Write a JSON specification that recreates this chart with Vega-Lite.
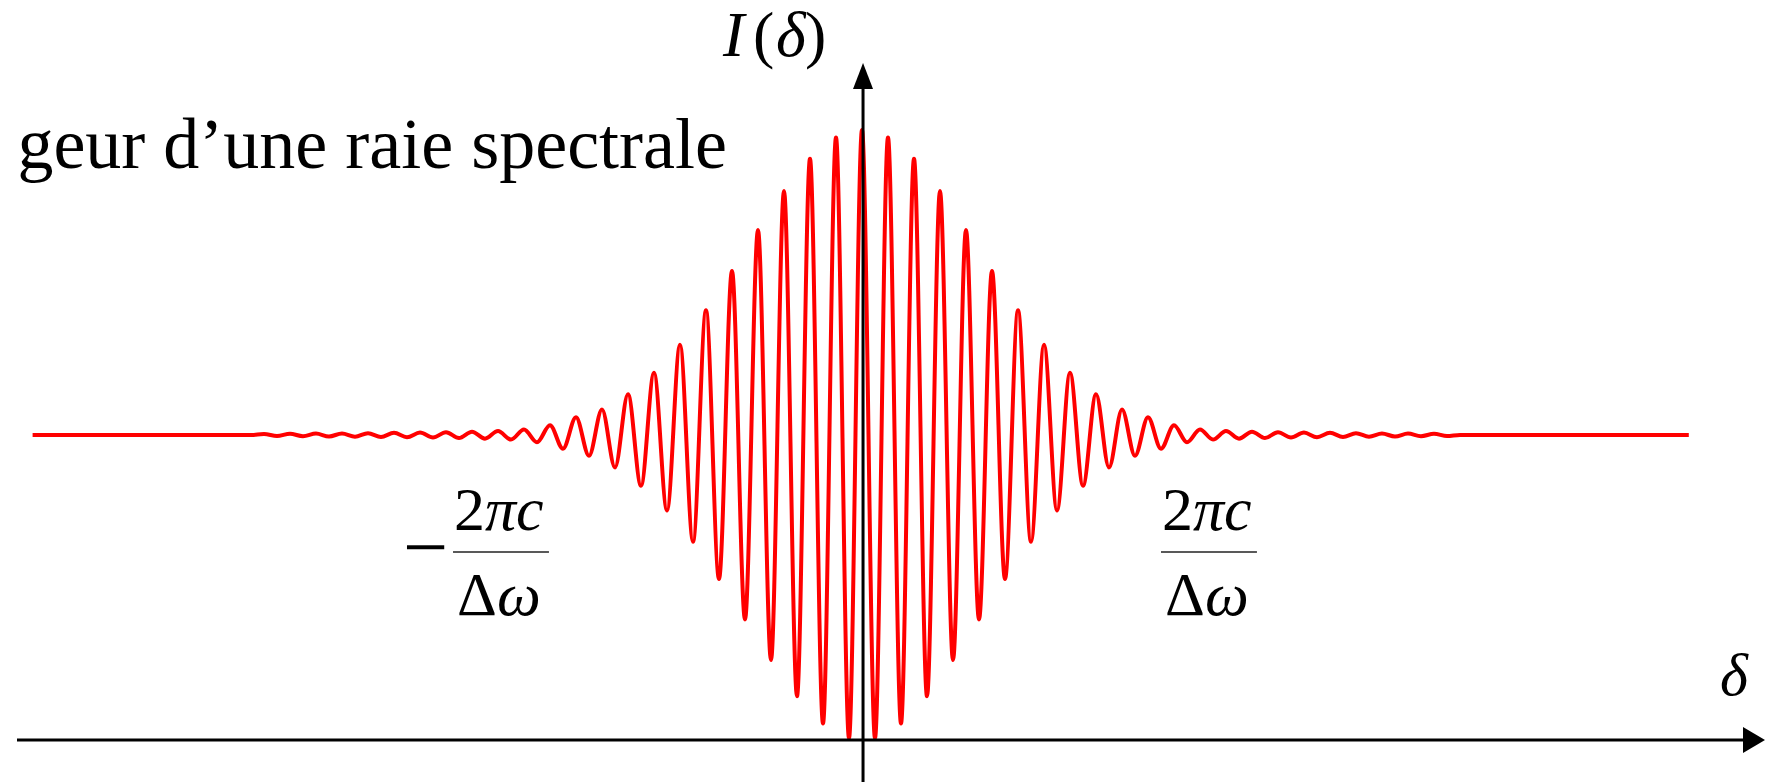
{
  "$schema": "https://vega.github.io/schema/vega-lite/v6.json",
  "width": 1780,
  "height": 782,
  "autosize": {"type": "none"},
  "padding": 0,
  "background": "white",
  "config": {"view": {"stroke": null}},
  "datasets": {
    "signal": [
      {"d": -31.9, "I": 1}, {"d": -23.5, "I": 1}, {"d": -23, "I": 1.003}, {"d": -22.5, "I": 0.9965}, {"d": -22, "I": 1.004}, {"d": -21.5, "I": 0.996}, {"d": -21, "I": 1.0045}, {"d": -20.5, "I": 0.995}, {"d": -20, "I": 1.005}, {"d": -19.5, "I": 0.9945}, {"d": -19, "I": 1.006}, {"d": -18.5, "I": 0.9935}, {"d": -18, "I": 1.007}, {"d": -17.5, "I": 0.9925}, {"d": -17, "I": 1.008}, {"d": -16.5, "I": 0.9915}, {"d": -16, "I": 1.009}, {"d": -15.5, "I": 0.99}, {"d": -15, "I": 1.011}, {"d": -14.5, "I": 0.988}, {"d": -14, "I": 1.013}, {"d": -13.5, "I": 0.985}, {"d": -13, "I": 1.018}, {"d": -12.5, "I": 0.976}, {"d": -12, "I": 1.032}, {"d": -11.5, "I": 0.955}, {"d": -11, "I": 1.058}, {"d": -10.5, "I": 0.932}, {"d": -10, "I": 1.0835}, {"d": -9.5, "I": 0.8936}, {"d": -9, "I": 1.1338}, {"d": -8.5, "I": 0.8337}, {"d": -8, "I": 1.2041}, {"d": -7.5, "I": 0.7526}, {"d": -7, "I": 1.2962}, {"d": -6.5, "I": 0.6498}, {"d": -6, "I": 1.409}, {"d": -5.5, "I": 0.5282}, {"d": -5, "I": 1.5375}, {"d": -4.5, "I": 0.3952}, {"d": -4, "I": 1.6721}, {"d": -3.5, "I": 0.2622}, {"d": -3, "I": 1.7998}, {"d": -2.5, "I": 0.1437}, {"d": -2, "I": 1.9054}, {"d": -1.5, "I": 0.0543}, {"d": -1, "I": 1.9755}, {"d": -0.5, "I": 0.0062},
      {"d": 0, "I": 2.0},
      {"d": 0.5, "I": 0.0062}, {"d": 1, "I": 1.9755}, {"d": 1.5, "I": 0.0543}, {"d": 2, "I": 1.9054}, {"d": 2.5, "I": 0.1437}, {"d": 3, "I": 1.7998}, {"d": 3.5, "I": 0.2622}, {"d": 4, "I": 1.6721}, {"d": 4.5, "I": 0.3952}, {"d": 5, "I": 1.5375}, {"d": 5.5, "I": 0.5282}, {"d": 6, "I": 1.409}, {"d": 6.5, "I": 0.6498}, {"d": 7, "I": 1.2962}, {"d": 7.5, "I": 0.7526}, {"d": 8, "I": 1.2041}, {"d": 8.5, "I": 0.8337}, {"d": 9, "I": 1.1338}, {"d": 9.5, "I": 0.8936}, {"d": 10, "I": 1.0835}, {"d": 10.5, "I": 0.932}, {"d": 11, "I": 1.058}, {"d": 11.5, "I": 0.955}, {"d": 12, "I": 1.032}, {"d": 12.5, "I": 0.976}, {"d": 13, "I": 1.018}, {"d": 13.5, "I": 0.985}, {"d": 14, "I": 1.013}, {"d": 14.5, "I": 0.988}, {"d": 15, "I": 1.011}, {"d": 15.5, "I": 0.99}, {"d": 16, "I": 1.009}, {"d": 16.5, "I": 0.9915}, {"d": 17, "I": 1.008}, {"d": 17.5, "I": 0.9925}, {"d": 18, "I": 1.007}, {"d": 18.5, "I": 0.9935}, {"d": 19, "I": 1.006}, {"d": 19.5, "I": 0.9945}, {"d": 20, "I": 1.005}, {"d": 20.5, "I": 0.995}, {"d": 21, "I": 1.0045}, {"d": 21.5, "I": 0.996}, {"d": 22, "I": 1.004}, {"d": 22.5, "I": 0.9965}, {"d": 23, "I": 1}, {"d": 31.8, "I": 1}
    ],
    "axes": [
      {"d": -32.5, "I": 0, "d2": 34.0, "I2": 0},
      {"d": 0.04, "I": -0.14, "d2": 0.04, "I2": 2.17}
    ],
    "xarrow": [{"d": 34.308, "I": 0}],
    "yarrow": [{"d": 0.04, "I": 2.177}],
    "bars": [
      {"d": -15.73, "I": 0.6164, "d2": -12.04, "I2": 0.6164},
      {"d": 11.5, "I": 0.6164, "d2": 15.19, "I2": 0.6164}
    ],
    "title": [{"d": -5.192, "I": 1.876, "t": "geur d’une raie spectrale"}],
    "minus": [{"d": -16.79, "I": 0.545, "t": "−"}],
    "upRight": [
      {"d": -14.5, "I": 0.6885, "t": "2"},
      {"d": 12.73, "I": 0.6885, "t": "2"},
      {"d": -14.04, "I": 0.4098, "t": "Δ"},
      {"d": 13.19, "I": 0.4098, "t": "Δ"}
    ],
    "itLeft": [
      {"d": -14.5, "I": 0.6885, "t": "πc"},
      {"d": 12.73, "I": 0.6885, "t": "πc"},
      {"d": -14.04, "I": 0.4098, "t": "ω"},
      {"d": 13.19, "I": 0.4098, "t": "ω"}
    ],
    "ylabIt": [
      {"d": -5.346, "I": 2.2426, "t": "I"},
      {"d": -3.307, "I": 2.2426, "t": "δ"}
    ],
    "ylabUp": [
      {"d": -4.192, "I": 2.2426, "t": "("},
      {"d": -2.192, "I": 2.2426, "t": ")"}
    ],
    "xlab": [{"d": 33.54, "I": 0.1475, "t": "δ"}]
  },
  "encoding": {
    "x": {"field": "d", "type": "quantitative", "scale": {"domain": [-33.154, 35.308], "nice": false, "zero": false}, "axis": null},
    "y": {"field": "I", "type": "quantitative", "scale": {"domain": [-0.1377, 2.4262], "nice": false, "zero": false}, "axis": null}
  },
  "layer": [
    {
      "data": {"name": "signal"},
      "mark": {"type": "line", "color": "#ff0000", "strokeWidth": 4, "interpolate": "monotone"}
    },
    {
      "data": {"name": "axes"},
      "mark": {"type": "rule", "color": "black", "strokeWidth": 3},
      "encoding": {"x2": {"field": "d2"}, "y2": {"field": "I2"}}
    },
    {
      "data": {"name": "xarrow"},
      "mark": {"type": "point", "shape": "M1,0L-1,-1.18L-1,1.18Z", "size": 484, "filled": true, "color": "black", "opacity": 1}
    },
    {
      "data": {"name": "yarrow"},
      "mark": {"type": "point", "shape": "M0,-1L0.77,1L-0.77,1Z", "size": 676, "filled": true, "color": "black", "opacity": 1}
    },
    {
      "data": {"name": "bars"},
      "mark": {"type": "rule", "color": "#222222", "strokeWidth": 1.5},
      "encoding": {"x2": {"field": "d2"}, "y2": {"field": "I2"}}
    },
    {
      "data": {"name": "title"},
      "mark": {"type": "text", "font": "Liberation Serif", "fontSize": 72, "align": "right", "baseline": "alphabetic", "color": "black"},
      "encoding": {"text": {"field": "t"}}
    },
    {
      "data": {"name": "minus"},
      "mark": {"type": "text", "font": "Liberation Serif", "fontSize": 80, "align": "center", "baseline": "alphabetic", "color": "black"},
      "encoding": {"text": {"field": "t"}}
    },
    {
      "data": {"name": "upRight"},
      "mark": {"type": "text", "font": "Liberation Serif", "fontSize": 62, "align": "right", "baseline": "alphabetic", "color": "black"},
      "encoding": {"text": {"field": "t"}}
    },
    {
      "data": {"name": "itLeft"},
      "mark": {"type": "text", "font": "Liberation Serif", "fontSize": 62, "fontStyle": "italic", "align": "left", "baseline": "alphabetic", "color": "black"},
      "encoding": {"text": {"field": "t"}}
    },
    {
      "data": {"name": "ylabIt"},
      "mark": {"type": "text", "font": "Liberation Serif", "fontSize": 64, "fontStyle": "italic", "align": "left", "baseline": "alphabetic", "color": "black"},
      "encoding": {"text": {"field": "t"}}
    },
    {
      "data": {"name": "ylabUp"},
      "mark": {"type": "text", "font": "Liberation Serif", "fontSize": 64, "align": "left", "baseline": "alphabetic", "color": "black"},
      "encoding": {"text": {"field": "t"}}
    },
    {
      "data": {"name": "xlab"},
      "mark": {"type": "text", "font": "Liberation Serif", "fontSize": 60, "fontStyle": "italic", "align": "center", "baseline": "alphabetic", "color": "black"},
      "encoding": {"text": {"field": "t"}}
    }
  ]
}
